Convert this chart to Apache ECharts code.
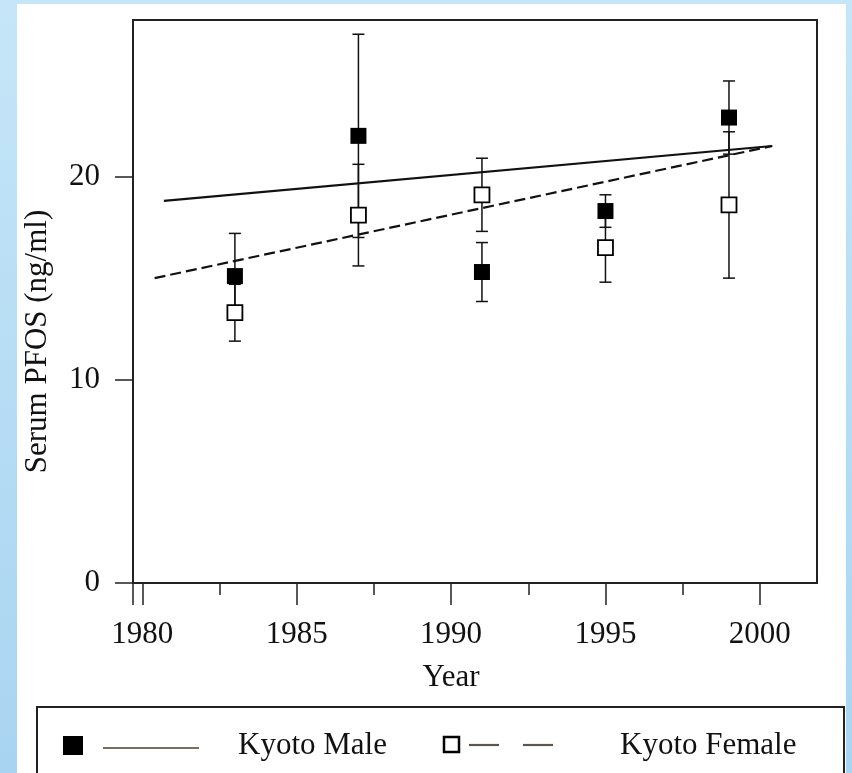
<!DOCTYPE html>
<html>
<head>
<meta charset="utf-8">
<script src="https://cdn.jsdelivr.net/npm/echarts@6/dist/echarts.min.js"></script>
<style>
  html, body { margin: 0; padding: 0; }
  body {
    width: 852px; height: 773px; overflow: hidden; position: relative;
    background: linear-gradient(to bottom, #c4e6f8, #a9d4f1);
  }
  #panel { position: absolute; left: 17px; top: 4px; width: 829px; height: 769px; background: #fff; }
  #chart { position: absolute; left: 0; top: 0; width: 852px; height: 773px; }
</style>
</head>
<body>
<div id="panel"></div>
<div id="chart"></div>
<script>
  // values
  var years = [1983, 1987, 1991, 1995, 1999];
  var maleMean = [15.1, 22.0, 15.3, 18.3, 22.9];
  var maleErr = [2.1, 5.0, 1.45, 0.8, 1.8];
  var femaleMean = [13.3, 18.1, 19.1, 16.5, 18.6];
  var femaleErr = [1.4, 2.5, 1.8, 1.7, 3.6];

  // fitted trend lines, end points
  var maleTrend = [[1980.7, 18.8], [2000.4, 21.5]];
  var femaleTrend = [[1980.4, 15.0], [2000.4, 21.5]];

  var seriesNames = ['Kyoto Male', 'Kyoto Female'];
  var xLabels = [1980, 1985, 1990, 1995, 2000];
  var xMinor = [1982.5, 1987.5, 1992.5, 1997.5];
  var yLabels = [0, 10, 20];

  var xMin = 1979.7, xMax = 2001.85, yMax = 27.7;
  var font = 'Liberation Serif';

  function pairs(mean) {
    return years.map(function(y, i) { return [y, mean[i]]; });
  }
  function bars(mean, err) {
    return years.map(function(y, i) { return [y, mean[i] - err[i], mean[i] + err[i]]; });
  }
  function plain(v) { return String(v); }

  function errorBar(params, api) {
    var x = api.value(0);
    var lo = api.coord([x, api.value(1)]);
    var hi = api.coord([x, api.value(2)]);
    var w = 6;
    var style = { stroke: '#111', lineWidth: 1.5 };
    return {
      type: 'group',
      children: [
        { type: 'line', shape: { x1: lo[0], y1: lo[1], x2: hi[0], y2: hi[1] }, style: style },
        { type: 'line', shape: { x1: lo[0] - w, y1: lo[1], x2: lo[0] + w, y2: lo[1] }, style: style },
        { type: 'line', shape: { x1: hi[0] - w, y1: hi[1], x2: hi[0] + w, y2: hi[1] }, style: style }
      ]
    };
  }

  var chart = echarts.init(document.getElementById('chart'));

  var option = {
    backgroundColor: 'transparent',
    animation: false,
    grid: {
      left: 133, right: 35, top: 20, bottom: 190,
      show: true, borderColor: '#222', borderWidth: 2
    },
    xAxis: [{
      type: 'value', min: xMin, max: xMax,
      name: 'Year', nameLocation: 'middle', nameGap: 79,
      nameTextStyle: { fontFamily: font, fontSize: 31, color: '#111', padding: [0, 48, 0, 0] },
      axisLine: { lineStyle: { color: '#222', width: 2 } },
      axisTick: { inside: false, length: 22, lineStyle: { color: '#222', width: 1.5 },
        customValues: [xMin].concat(xLabels) },
      axisLabel: { customValues: xLabels, formatter: plain, margin: 36,
        fontFamily: font, fontSize: 31, color: '#111' },
      splitLine: { show: false }
    }, {
      type: 'value', min: xMin, max: xMax, position: 'bottom',
      axisLine: { show: false },
      axisTick: { inside: false, length: 12, lineStyle: { color: '#222', width: 1.5 },
        customValues: xMinor },
      axisLabel: { show: false },
      splitLine: { show: false }
    }],
    yAxis: {
      type: 'value', min: 0, max: yMax,
      name: 'Serum PFOS (ng/ml)', nameLocation: 'middle', nameGap: 80, nameRotate: 90,
      nameTextStyle: { fontFamily: font, fontSize: 31, color: '#111', padding: [0, 80, 0, 0] },
      axisLine: { lineStyle: { color: '#222', width: 2 } },
      axisTick: { inside: false, length: 18, lineStyle: { color: '#222', width: 1.5 },
        customValues: yLabels },
      axisLabel: { customValues: yLabels, formatter: plain, margin: 33,
        fontFamily: font, fontSize: 31, color: '#111' },
      splitLine: { show: false }
    },
    series: [
      {
        type: 'line', name: seriesNames[0] + ' trend', data: maleTrend,
        showSymbol: false, lineStyle: { color: '#111', width: 2.2 }, z: 2
      },
      {
        type: 'line', name: seriesNames[1] + ' trend', data: femaleTrend,
        showSymbol: false, lineStyle: { color: '#111', width: 2.2, type: [11, 5] }, z: 2
      },
      { type: 'custom', renderItem: errorBar, data: bars(maleMean, maleErr), z: 3 },
      { type: 'custom', renderItem: errorBar, data: bars(femaleMean, femaleErr), z: 3 },
      {
        type: 'scatter', name: seriesNames[0], data: pairs(maleMean),
        symbol: 'rect', symbolSize: 16, itemStyle: { color: '#000', opacity: 1 }, z: 4
      },
      {
        type: 'scatter', name: seriesNames[1], data: pairs(femaleMean),
        symbol: 'rect', symbolSize: 15,
        itemStyle: { color: '#fff', borderColor: '#000', borderWidth: 1.8, opacity: 1 }, z: 4
      }
    ],
    graphic: [
      { type: 'rect', shape: { x: 37, y: 707, width: 807, height: 90 },
        style: { fill: '#fff', stroke: '#222', lineWidth: 2 } },
      { type: 'rect', shape: { x: 63, y: 736, width: 20, height: 19 }, style: { fill: '#000' } },
      { type: 'line', shape: { x1: 103, y1: 748, x2: 199, y2: 748 },
        style: { stroke: '#7a6e62', lineWidth: 2 } },
      { type: 'text', x: 238, y: 746,
        style: { text: seriesNames[0], fontFamily: font, fontSize: 31, fill: '#111', verticalAlign: 'middle' } },
      { type: 'rect', shape: { x: 444, y: 737, width: 15, height: 15 },
        style: { fill: '#fff', stroke: '#000', lineWidth: 2.5 } },
      { type: 'line', shape: { x1: 469, y1: 745, x2: 499, y2: 745 },
        style: { stroke: '#5e554c', lineWidth: 2.2 } },
      { type: 'line', shape: { x1: 523, y1: 745, x2: 553, y2: 745 },
        style: { stroke: '#5e554c', lineWidth: 2.2 } },
      { type: 'text', x: 620, y: 746,
        style: { text: seriesNames[1], fontFamily: font, fontSize: 31, fill: '#111', verticalAlign: 'middle' } }
    ]
  };

  chart.setOption(option);
</script>
</body>
</html>
